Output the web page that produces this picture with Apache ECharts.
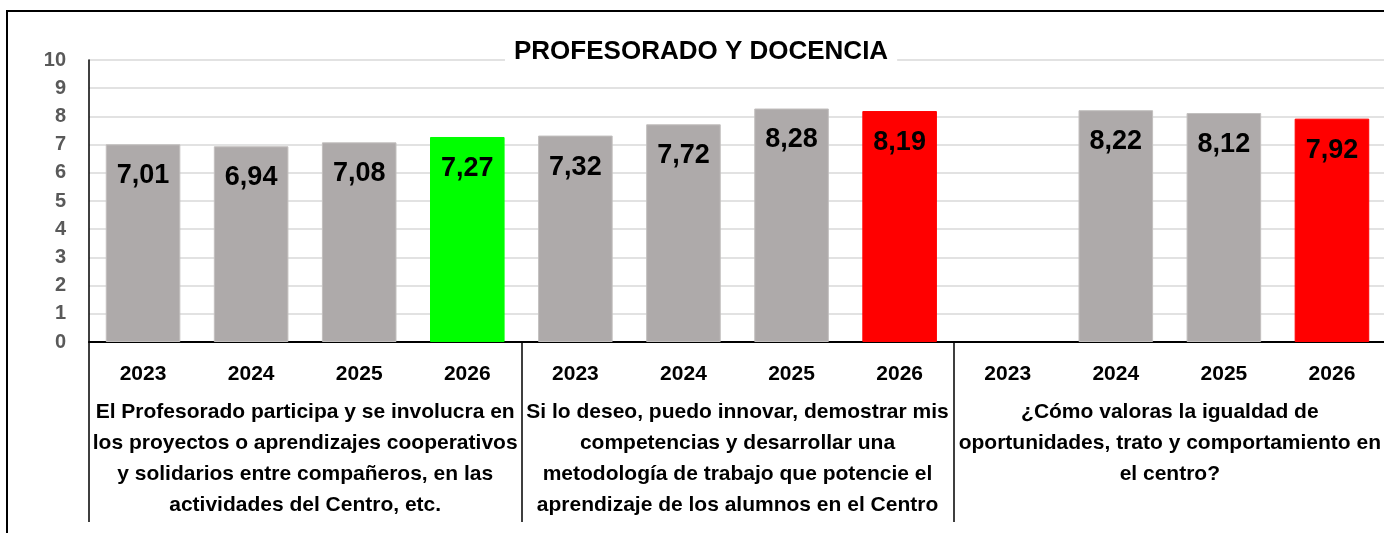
<!DOCTYPE html>
<html>
<head>
<meta charset="utf-8">
<title>Profesorado y docencia</title>
<script src="https://cdn.jsdelivr.net/npm/echarts@6/dist/echarts.min.js"></script>
<style>
    html, body { margin: 0; padding: 0; background: #fff; }
    #chart { width: 1384px; height: 533px; }
</style>
</head>
<body>
<div id="chart"></div>
<script>
    'use strict';

    // Encuesta: valoración media por pregunta y año
    var years = ['2023', '2024', '2025', '2026'];
    var questions = [
        'El Profesorado participa y se involucra en\nlos proyectos o aprendizajes cooperativos\ny solidarios entre compañeros, en las\nactividades del Centro, etc.',
        'Si lo deseo, puedo innovar, demostrar mis\ncompetencias y desarrollar una\nmetodología de trabajo que potencie el\naprendizaje de los alumnos en el Centro',
        '¿Cómo valoras la igualdad de\noportunidades, trato y comportamiento en\nel centro?'
    ];
    var participaValues = [7.01, 6.94, 7.08, 7.27];
    var innovarValues   = [7.32, 7.72, 8.28, 8.19];
    var igualdadValues  = [null, 8.22, 8.12, 7.92];
    var yTicks = [0, 1, 2, 3, 4, 5, 6, 7, 8, 9, 10];

    var FONT = "'Liberation Sans', Arial, sans-serif";
    var GRAY = '#aeaaaa';
    // last year of each question is highlighted
    var highlight = ['#00ff00', '#ff0000', '#ff0000'];

    var groups = [participaValues, innovarValues, igualdadValues];
    var yearAxis = [];
    var barData = [];
    groups.forEach(function (vals, g) {
        vals.forEach(function (v, i) {
            yearAxis.push(years[i]);
            var last = i === vals.length - 1;
            barData.push({
                value: v,
                itemStyle: {
                    color: last ? highlight[g] : GRAY,
                    borderColor: last ? highlight[g] : '#c2bfbe',
                    borderWidth: 1
                }
            });
        });
    });

    var chart = echarts.init(document.getElementById('chart'));

    chart.setOption({
        backgroundColor: '#fff',
        animation: false,
        textStyle: { fontFamily: FONT },
        graphic: [{
            type: 'rect',
            z: -10,
            shape: { x: 7, y: 11, width: 1420, height: 600 },
            style: { fill: null, stroke: '#000', lineWidth: 2 }
        }],
        title: {
            text: 'PROFESORADO Y DOCENCIA',
            left: 505,
            top: 37,
            padding: [2, 9],
            backgroundColor: '#fff',
            z: 20,
            textStyle: { fontFamily: FONT, fontSize: 26, fontWeight: 'bold', color: '#000' }
        },
        // plot runs slightly past the right edge, as in the original
        grid: {
            left: 89, top: 60, width: 1297, height: 282,
            containLabel: false,
            outerBoundsMode: 'none'
        },
        xAxis: [{
            type: 'category',
            data: yearAxis,
            axisLine: { show: true, lineStyle: { color: '#000', width: 2 } },
            axisTick: { show: false },
            axisLabel: {
                interval: 0,
                margin: 22,
                fontFamily: FONT,
                fontSize: 21,
                fontWeight: 'bold',
                color: '#000'
            }
        }, {
            type: 'category',
            position: 'bottom',
            data: questions,
            axisLine: { show: false },
            axisTick: { show: true, length: 180, lineStyle: { color: '#000', width: 1.5 } },
            axisLabel: {
                interval: 0,
                margin: 55,
                fontFamily: FONT,
                fontSize: 21,
                fontWeight: 'bold',
                lineHeight: 31,
                color: '#000',
                align: 'center'
            }
        }],
        yAxis: {
            type: 'value',
            min: yTicks[0],
            max: yTicks[yTicks.length - 1],
            interval: 1,
            axisLine: { show: true, lineStyle: { color: '#000', width: 1.5 } },
            axisTick: { show: false },
            splitLine: { lineStyle: { color: '#d9d9d9', width: 1.5 } },
            axisLabel: {
                margin: 23,
                fontFamily: FONT,
                fontSize: 20,
                fontWeight: 'bold',
                color: '#595959'
            }
        },
        series: [{
            type: 'bar',
            xAxisIndex: 0,
            data: barData,
            barWidth: '69%',
            label: {
                show: true,
                position: 'insideTop',
                distance: 18,
                fontFamily: FONT,
                fontSize: 27,
                fontWeight: 'bold',
                color: '#000',
                formatter: function (p) {
                    return p.value == null ? '' : p.value.toFixed(2).replace('.', ',');
                }
            }
        }]
    });

    window.addEventListener('resize', function () {
        chart.resize();
    });
</script>
</body>
</html>
